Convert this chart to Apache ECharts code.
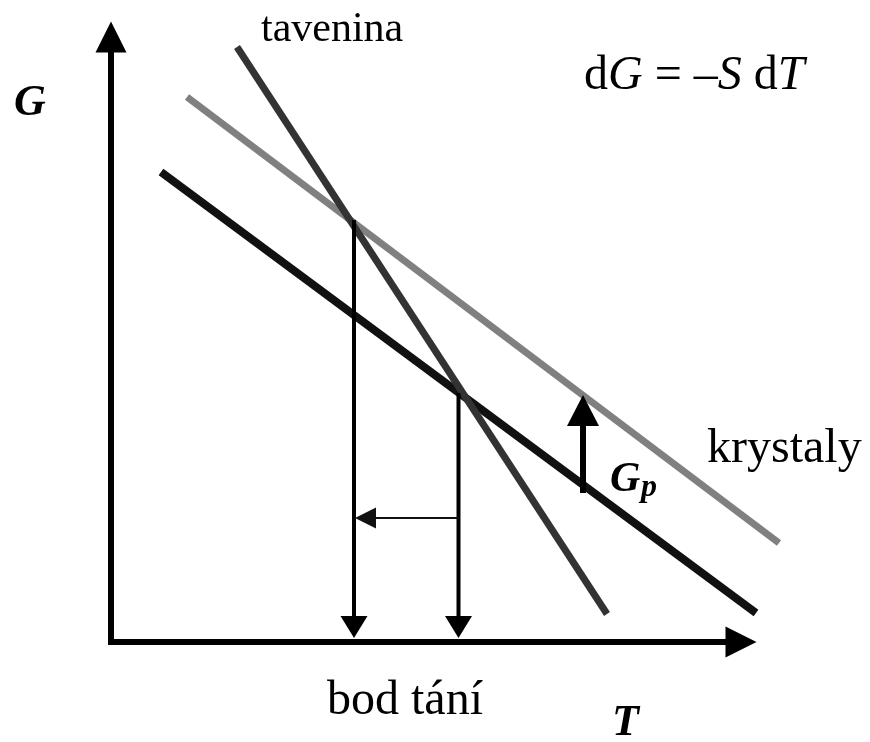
<!DOCTYPE html>
<html>
<head>
<meta charset="utf-8">
<script src="https://cdn.jsdelivr.net/npm/echarts@6/dist/echarts.min.js"></script>
<style>
  html, body { margin: 0; padding: 0; background: #fff; }
  #chart { width: 870px; height: 742px; }
</style>
</head>
<body>
<div id="chart"></div>
<script>
// Free enthalpy G against temperature T (arbitrary units)
// Each phase line is given by its two end points [T, G].
const meltLine = [[12.6, 59.5], [49.6, 2.8]];      // tavenina
const crystalLine = [[7.6, 54.5], [66.8, 9.9]];    // krystaly
const lowerLine = [[5.0, 47.0], [64.5, 2.9]];      // lower crystal line

// melting points dropped onto the T axis: T and the G where the drop starts
const dropT = [24.3, 34.75];
const dropTop = [42.2, 24.9];

// shift of the melting point (horizontal arrow)
const shiftFromT = 34.75;
const shiftToT = 24.4;
const shiftG = 12.4;

// G_p step between the two crystal lines
const gpT = 47.2;
const gpFrom = 14.9;
const gpTo = 24.7;

const axisMaxT = 63;
const axisMaxG = 60.5;

const SERIF = '"Liberation Serif", "Times New Roman", serif';

// straight segment between two [T, G] points, drawn past the axis range
function segmentSeries(name, points, lineW, color) {
  return {
    name: name,
    type: 'custom',
    silent: true,
    clip: false,
    data: [[points[0][0], points[0][1], points[1][0], points[1][1]]],
    renderItem: function (params, api) {
      const a = api.coord([api.value(0), api.value(1)]);
      const b = api.coord([api.value(2), api.value(3)]);
      return {
        type: 'line',
        shape: { x1: a[0], y1: a[1], x2: b[0], y2: b[1] },
        style: { stroke: color, lineWidth: lineW, lineCap: 'butt' }
      };
    }
  };
}

// straight arrow from (x0,y0) to (x1,y1), tip pulled back by `inset` px
function arrowSeries(rows, lineW, headLen, headW, color, inset) {
  return {
    type: 'custom',
    silent: true,
    clip: false,
    data: rows,
    renderItem: function (params, api) {
      const a = api.coord([api.value(0), api.value(1)]);
      const b = api.coord([api.value(2), api.value(3)]);
      const dx = b[0] - a[0], dy = b[1] - a[1];
      const len = Math.sqrt(dx * dx + dy * dy);
      const ux = dx / len, uy = dy / len;
      const tip = [b[0] - ux * inset, b[1] - uy * inset];
      const base = [tip[0] - ux * headLen, tip[1] - uy * headLen];
      const px = -uy, py = ux;
      return {
        type: 'group',
        children: [
          {
            type: 'line',
            shape: { x1: a[0], y1: a[1], x2: base[0] + ux, y2: base[1] + uy },
            style: { stroke: color, lineWidth: lineW, lineCap: 'butt' }
          },
          {
            type: 'polygon',
            shape: {
              points: [
                tip,
                [base[0] + px * headW / 2, base[1] + py * headW / 2],
                [base[0] - px * headW / 2, base[1] - py * headW / 2]
              ]
            },
            style: { fill: color }
          }
        ]
      };
    }
  };
}

const dropRows = dropT.map((t, i) => [t, dropTop[i], t, 0]);
const shiftRows = [[shiftFromT, shiftG, shiftToT, shiftG]];
const gpRows = [[gpT, gpFrom, gpT, gpTo]];

// text placed by its alphabetic baseline
function label(text, x, baseline, size, weight, style) {
  return {
    type: 'text',
    x: x,
    y: baseline - 0.3375 * size,
    silent: true,
    style: {
      text: text,
      fill: '#000',
      font: (style || 'normal') + ' ' + (weight || 'normal') + ' ' + size + 'px ' + SERIF,
      verticalAlign: 'middle',
      align: 'left'
    }
  };
}

const chart = echarts.init(document.getElementById('chart'), null, { renderer: 'canvas' });

chart.setOption({
  animation: false,
  backgroundColor: '#ffffff',
  grid: { left: 111, right: 129, top: 37, bottom: 100 },
  xAxis: {
    type: 'value',
    min: 0,
    max: axisMaxT,
    splitLine: { show: false },
    axisTick: { show: false },
    axisLabel: { show: false },
    axisLine: {
      show: true,
      symbol: ['none', 'triangle'],
      symbolSize: [31, 31],
      lineStyle: { color: '#000', width: 6, cap: 'square' }
    }
  },
  yAxis: {
    type: 'value',
    min: 0,
    max: axisMaxG,
    splitLine: { show: false },
    axisTick: { show: false },
    axisLabel: { show: false },
    axisLine: {
      show: true,
      symbol: ['none', 'triangle'],
      symbolSize: [31, 31],
      lineStyle: { color: '#000', width: 6, cap: 'square' }
    }
  },
  series: [
    segmentSeries('krystaly', crystalLine, 7, '#808080'),
    segmentSeries('G', lowerLine, 8, '#111111'),
    segmentSeries('tavenina', meltLine, 7, '#333333'),
    arrowSeries(dropRows, 4, 22, 27, '#000', 4),
    arrowSeries(shiftRows, 2, 21, 21, '#111', 0),
    arrowSeries(gpRows, 6, 31, 32, '#000', 0)
  ],
  graphic: [
    label('G', 14, 118, 44, 'bold', 'italic'),
    label('T', 612, 738, 44, 'bold', 'italic'),
    label('tavenina', 261, 44, 42),
    label('krystaly', 707, 466, 48),
    label('bod tání', 327, 718, 48),
    label('G', 610, 494, 42, 'bold', 'italic'),
    label('p', 641, 499, 32, 'bold', 'italic'),
    {
      type: 'text',
      x: 584,
      y: 93 - 0.3375 * 48,
      silent: true,
      style: {
        text: '{n|d}{i|G}{n| = –}{i|S}{n| d}{i|T}',
        verticalAlign: 'middle',
        align: 'left',
        rich: {
          n: { fontFamily: SERIF, fontSize: 48, fontStyle: 'normal', fill: '#000' },
          i: { fontFamily: SERIF, fontSize: 48, fontStyle: 'italic', fill: '#000' }
        }
      }
    }
  ]
});
</script>
</body>
</html>
